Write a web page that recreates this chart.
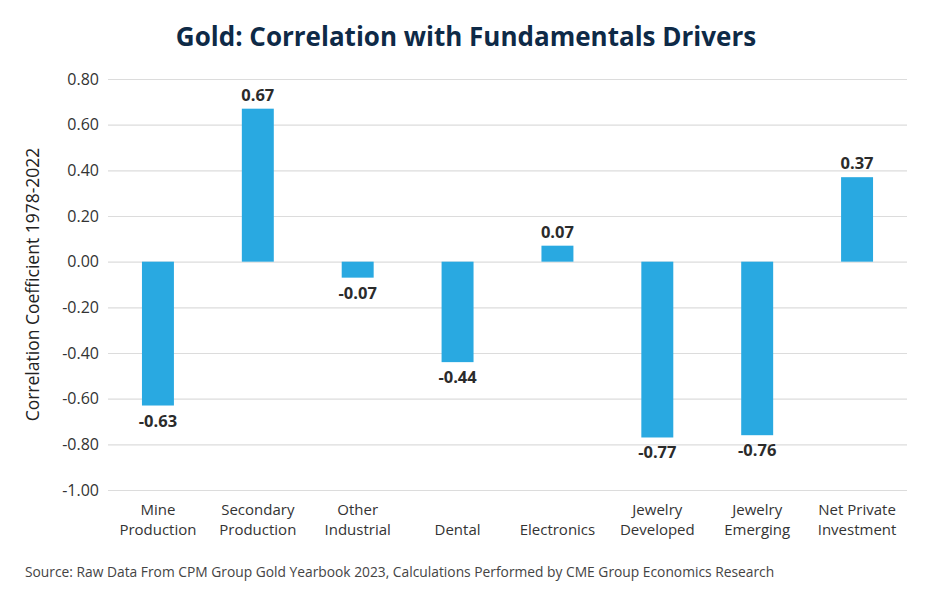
<!DOCTYPE html>
<html>
<head>
<meta charset="utf-8">
<script src="https://cdn.jsdelivr.net/npm/d3@7"></script>
<style>
  body { margin: 0; background: #fff; }
  text { font-family: "Open Sans", Lato, sans-serif; }
</style>
</head>
<body>
<script>
const categories = [
  ["Mine", "Production"],
  ["Secondary", "Production"],
  ["Other", "Industrial"],
  ["Dental"],
  ["Electronics"],
  ["Jewelry", "Developed"],
  ["Jewelry", "Emerging"],
  ["Net Private", "Investment"]
];
const values = [-0.63, 0.67, -0.07, -0.44, 0.07, -0.77, -0.76, 0.37];
const yTicks = [0.8, 0.6, 0.4, 0.2, 0, -0.2, -0.4, -0.6, -0.8, -1.0];

const width = 940, height = 600;
const margin = { top: 79, right: 33, bottom: 110, left: 108 };

const svg = d3
  .select("body")
  .append("svg")
  .attr("width", width)
  .attr("height", height);

const x = d3
  .scaleBand()
  .domain(d3.range(categories.length))
  .range([margin.left, width - margin.right])
  .paddingInner(0.68)
  .paddingOuter(0.34);

const y = d3
  .scaleLinear()
  .domain([-1, 0.8])
  .range([height - margin.bottom, margin.top]);

// gridlines + tick labels
const yAxis = (g) =>
  g
    .attr("transform", `translate(${margin.left},0)`)
    .call(
      d3
        .axisLeft(y)
        .tickValues(yTicks)
        .tickSize(-(width - margin.left - margin.right))
        .tickPadding(9)
        .tickFormat((d) => d.toFixed(2))
    )
    .call((g) => g.select(".domain").remove())
    .call((g) => g.selectAll(".tick line").attr("stroke", "#dcdcdc").attr("stroke-width", 1.2))
    .call((g) =>
      g.selectAll(".tick text").attr("fill", "#333").attr("font-size", 16)
    );

svg.append("g").call(yAxis);

svg
  .append("g")
  .selectAll("rect")
  .data(values)
  .join("rect")
  .attr("x", (d, i) => x(i))
  .attr("width", x.bandwidth())
  .attr("y", (d) => y(Math.max(0, d)))
  .attr("height", (d) => Math.abs(y(d) - y(0)))
  .attr("fill", "#29a9e1");

svg
  .append("g")
  .selectAll("text")
  .data(values)
  .join("text")
  .attr("x", (d, i) => x(i) + x.bandwidth() / 2)
  .attr("y", (d) => (d >= 0 ? y(d) - 8 : y(d) + 21))
  .attr("text-anchor", "middle")
  .attr("font-size", 16.5)
  .attr("font-weight", 700)
  .attr("fill", "#2b2b2b")
  .text((d) => d.toFixed(2));

// category labels, one text per line
svg
  .append("g")
  .selectAll("text")
  .data(categories.flatMap((lines, i) =>
    (lines.length === 1 ? [null, lines[0]] : lines)
      .map((t, j) => ({ i, j, t }))
      .filter((d) => d.t)
  ))
  .join("text")
  .attr("x", (d) => x(d.i) + x.bandwidth() / 2)
  .attr("y", (d) => 515 + d.j * 20)
  .attr("text-anchor", "middle")
  .attr("font-size", 15)
  .attr("fill", "#333")
  .text((d) => d.t);

svg
  .append("text")
  .attr("x", 466)
  .attr("y", 46)
  .attr("text-anchor", "middle")
  .attr("font-size", 26)
  .attr("font-weight", 700)
  .attr("fill", "#0e2a47")
  .text("Gold: Correlation with Fundamentals Drivers");

svg
  .append("text")
  .attr("transform", `translate(39,${(y(0.8) + y(-1)) / 2}) rotate(-90)`)
  .attr("text-anchor", "middle")
  .attr("font-size", 17.5)
  .attr("fill", "#222")
  .text("Correlation Coefficient 1978-2022");

svg
  .append("text")
  .attr("x", 25)
  .attr("y", 577)
  .attr("font-size", 13.8)
  .attr("fill", "#444")
  .text("Source: Raw Data From CPM Group Gold Yearbook 2023, Calculations Performed by CME Group Economics Research");
</script>
</body>
</html>
